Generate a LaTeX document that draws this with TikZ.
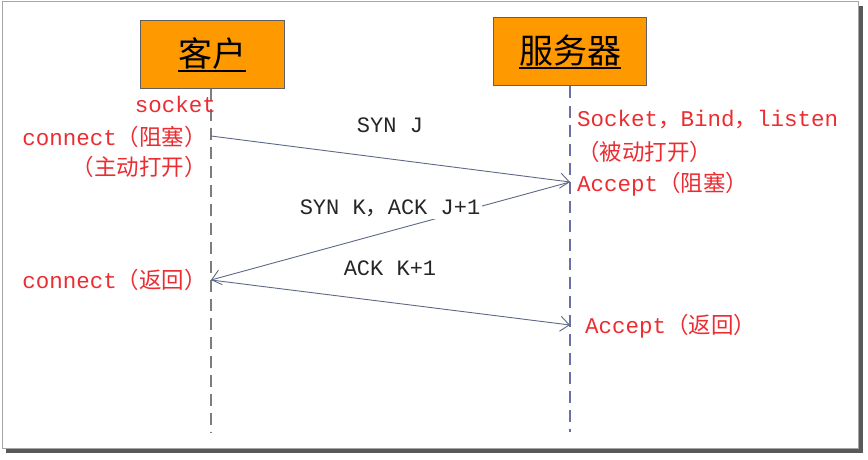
\documentclass[tikz,border=0pt]{standalone}
\usepackage{fontspec}
\usepackage{tikz}
\usetikzlibrary{arrows.meta}

\newfontfamily\latin{Liberation Mono}
\newfontfamily\cjk{Noto Sans CJK SC}

\definecolor{boxorange}{RGB}{255,153,0}
\definecolor{callred}{RGB}{235,45,50}
\definecolor{msgline}{RGB}{95,105,135}
\definecolor{lifegray}{RGB}{125,125,125}
\definecolor{lifeblue}{RGB}{105,112,165}

%% thick underline for the host names
\newcommand{\ulbar}[1]{\setbox0\hbox{#1}\rlap{\rule[-6pt]{\wd0}{2.2pt}}\box0}

\tikzset{
  host/.style={draw=gray!75!black, line width=1pt, fill=boxorange,
               minimum height=68pt, inner sep=0pt,
               font=\cjk\fontsize{34}{40}\selectfont},
  call/.style={text=callred, inner sep=0pt, font=\fontsize{22.5}{26}\selectfont},
  msg/.style={draw=msgline, line width=0.9pt,
              -{Straight Barb[length=9pt,width=15pt]}},
  msglabel/.style={text=black!85, fill=white, inner sep=2pt,
                   font=\fontsize{22}{26}\selectfont},
  life/.style={dash pattern=on 12pt off 7pt, line width=1.3pt}
}

\begin{document}
\begin{tikzpicture}[x=1pt,y=-1pt]
\useasboundingbox (0,0) rectangle (868,460);

%% frame
\fill[black!65] (6,6) rectangle (863,453);
\draw[black!35, line width=1pt, fill=white] (2,2) rectangle (858,448);

%% hosts
\node[host, minimum width=144pt] (client) at (212,55) {\ulbar{客户}};
\node[host, minimum width=153pt] (server) at (570,52) {\ulbar{服务器}};

%% lifelines
\coordinate (cend) at (211,432);
\coordinate (send) at (570,432);
\draw[life, draw=lifegray] (client.south -| cend) -- (cend);
\draw[life, draw=lifeblue] (server.south -| send) -- (send);

%% points on the lifelines
\coordinate (c1) at (211,136);
\coordinate (s1) at (570,182);
\coordinate (c2) at (211,280);
\coordinate (s2) at (570,325);

%% messages
\draw[msg] (c1) -- (s1);
\draw[msg] (s1) -- (c2);
\draw[msg] (c2) -- (s2);

%% message labels
\node[msglabel] (syn) at (390,125) {\latin SYN J};
\node[msglabel] (synack) at (390,208) {\latin SYN K{\cjk ，}ACK J+1};
\node[msglabel] (ack) at (390,268) {\latin ACK K+1};

%% client calls
\node[call, anchor=east] (csock) at (216,104) {\latin socket};
\node[call, anchor=east] (cconn) at (207,137) {{\latin connect}{\cjk（阻塞）}};
\node[call, anchor=east] (copen) at (207,167) {\cjk（主动打开）};
\node[call, anchor=east] (cret) at (207,280) {{\latin connect}{\cjk（返回）}};

%% server calls
\node[call, anchor=west] (slisten) at (577,120) {{\latin Socket}{\cjk ，}{\latin Bind}{\cjk ，}{\latin listen}};
\node[call, anchor=west] (sopen) at (577,152) {\cjk（被动打开）};
\node[call, anchor=west] (sacc) at (577,184) {{\latin Accept}{\cjk（阻塞）}};
\node[call, anchor=west] (sret) at (585,326) {{\latin Accept}{\cjk（返回）}};

\end{tikzpicture}
\end{document}
